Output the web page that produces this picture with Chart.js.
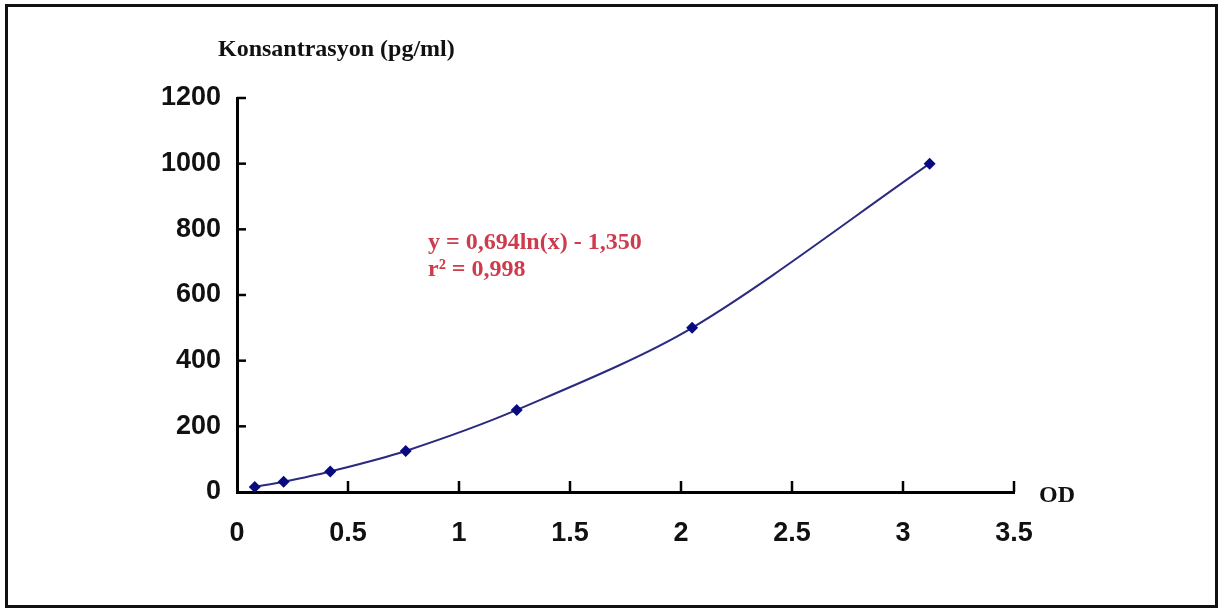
<!DOCTYPE html>
<html>
<head>
<meta charset="utf-8">
<script src="https://cdn.jsdelivr.net/npm/chart.js@4/dist/chart.umd.min.js"></script>
<style>
  html, body { margin: 0; padding: 0; background: #fff; }
  #wrap { width: 1222px; height: 612px; }
</style>
</head>
<body>
<div id="wrap"><canvas id="od-graph" width="1222" height="612"></canvas></div>
<script>
// standard curve values
var odValues = [0.08, 0.21, 0.42, 0.76, 1.26, 2.05, 3.12];
var concValues = [15.6, 31.2, 62.5, 125, 250, 500, 1000];
var xTicks = [0, 0.5, 1, 1.5, 2, 2.5, 3, 3.5];
var yTicks = [0, 200, 400, 600, 800, 1000, 1200];
var yTitle = 'Konsantrasyon (pg/ml)';
var xTitle = 'OD';
var fitLines = ['y = 0,694ln(x) - 1,350', 'r\u00b2 = 0,998'];

var points = odValues.map(function(v, i) {
    return { x: v, y: concValues[i] };
});

var extras = {
    id: 'extras',
    afterDraw: function(chart) {
        var ctx = chart.ctx;
        var xs = chart.scales.x;
        var ys = chart.scales.y;
        var area = chart.chartArea;
        ctx.save();

        // inward tick marks
        ctx.strokeStyle = '#000';
        ctx.lineWidth = 2.5;
        xTicks.forEach(function(t) {
            if (t === 0) return;
            var px = xs.getPixelForValue(t);
            ctx.beginPath();
            ctx.moveTo(px, area.bottom);
            ctx.lineTo(px, area.bottom - 11);
            ctx.stroke();
        });
        yTicks.forEach(function(t) {
            if (t === 0) return;
            var py = ys.getPixelForValue(t);
            ctx.beginPath();
            ctx.moveTo(area.left, py);
            ctx.lineTo(area.left + 9, py);
            ctx.stroke();
        });

        // axis titles
        ctx.fillStyle = '#111';
        ctx.font = 'bold 24px "Liberation Serif", "Times New Roman", serif';
        ctx.textBaseline = 'middle';
        ctx.textAlign = 'left';
        ctx.fillText(yTitle, 218, 50);
        ctx.fillText(xTitle, 1039, 496);

        // fit equation
        ctx.fillStyle = '#cf3a4c';
        ctx.font = 'bold 24px "Liberation Serif", "Times New Roman", serif';
        ctx.fillText(fitLines[0], 428, 243);
        ctx.fillText(fitLines[1], 428, 270);

        // frame round the picture
        ctx.strokeStyle = '#111';
        ctx.lineWidth = 3;
        ctx.strokeRect(6.5, 5.5, 1210, 601);
        ctx.restore();
    }
};

var ctx = document.getElementById('od-graph').getContext('2d');
var od_graph = new Chart(ctx, {
    type: 'line',
    data: {
        datasets: [{
            label: 'Standard',
            data: points,
            borderColor: '#2a2a80',
            borderWidth: 2,
            backgroundColor: '#0a0a80',
            pointStyle: 'rectRot',
            pointRadius: 6,
            pointBorderWidth: 0,
            tension: 0.3,
            fill: false
        }]
    },
    options: {
        responsive: false,
        animation: false,
        layout: {
            padding: { left: 0, top: 98, right: 208, bottom: 70 }
        },
        plugins: {
            legend: { display: false },
            tooltip: { enabled: false }
        },
        scales: {
            x: {
                type: 'linear',
                min: 0,
                max: 3.5,
                afterFit: function(scale) { scale.height = 50; },
                afterBuildTicks: function(scale) {
                    scale.ticks = xTicks.map(function(v) { return { value: v }; });
                },
                grid: { drawOnChartArea: false, drawTicks: false },
                border: { display: true, color: '#000', width: 3 },
                ticks: {
                    color: '#111',
                    padding: 25,
                    font: { family: '"Liberation Sans", Arial, sans-serif', size: 27, weight: 'bold' },
                    callback: function(v) { return String(v); }
                }
            },
            y: {
                min: 0,
                max: 1200,
                afterFit: function(scale) { scale.width = 237; },
                afterBuildTicks: function(scale) {
                    scale.ticks = yTicks.map(function(v) { return { value: v }; });
                },
                grid: { drawOnChartArea: false, drawTicks: false },
                border: { display: true, color: '#000', width: 3 },
                ticks: {
                    color: '#111',
                    padding: 16,
                    font: { family: '"Liberation Sans", Arial, sans-serif', size: 27, weight: 'bold' },
                    callback: function(v) { return String(v); }
                }
            }
        }
    },
    plugins: [extras]
});
</script>
</body>
</html>
